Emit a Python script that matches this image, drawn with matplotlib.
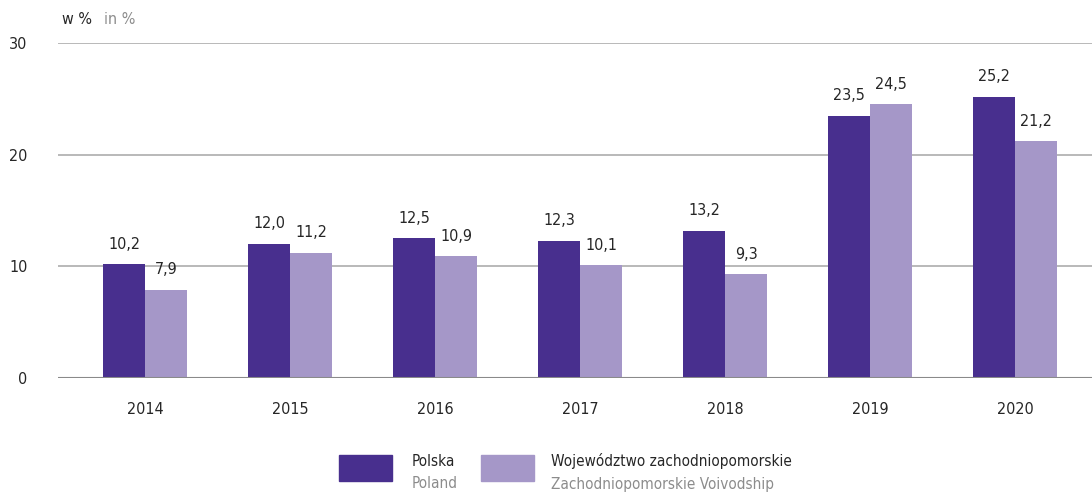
import matplotlib
matplotlib.use("Agg")
import matplotlib.pyplot as plt
from matplotlib import font_manager
from matplotlib.patches import Rectangle
import numpy as np

years = ["2014", "2015", "2016", "2017", "2018", "2019", "2020"]
polska = [10.2, 12.0, 12.5, 12.3, 13.2, 23.5, 25.2]
zachodniopomorskie = [7.9, 11.2, 10.9, 10.1, 9.3, 24.5, 21.2]
y_ticks = [0, 10, 20, 30]

dark = "#482f8e"
light = "#a597c8"
text_dark = "#262626"
text_gray = "#8c8c8c"

# prefer a narrow face when one is installed
names = {f.name for f in font_manager.fontManager.ttflist}
condensed = [f for f in font_manager.fontManager.ttflist
             if "Narrow" in f.name or "Condensed" in f.name
             or (isinstance(f.stretch, str) and "condensed" in f.stretch)
             or (isinstance(f.stretch, int) and f.stretch < 500)]
stretch = "normal"
if "Liberation Sans Narrow" in names:
    family = "Liberation Sans Narrow"
elif condensed:
    family = condensed[0].name
    stretch = condensed[0].stretch
else:
    family = "DejaVu Sans"
plt.rcParams["font.family"] = [family, "DejaVu Sans"]
plt.rcParams["font.stretch"] = stretch

fig = plt.figure(figsize=(10.92, 4.93), dpi=100)
ax = fig.add_axes([58 / 1092, 1 - 378 / 493, 1 - 58 / 1092, (378 - 43) / 493])

x = np.arange(len(years))
w = 0.29
b1 = ax.bar(x - w / 2, polska, w, color=dark, zorder=3)
b2 = ax.bar(x + w / 2, zachodniopomorskie, w, color=light, zorder=3)

for bars, vals in ((b1, polska), (b2, zachodniopomorskie)):
    for rect, v in zip(bars, vals):
        ax.annotate(f"{v:.1f}".replace(".", ","),
                    (rect.get_x() + rect.get_width() / 2, v),
                    xytext=(0, 9), textcoords="offset points",
                    ha="center", va="bottom", fontsize=11.5, color=text_dark)

ax.set_xlim(-0.6, 6.53)
ax.set_ylim(0, 30)
ax.set_yticks(y_ticks)
ax.set_yticklabels([str(t) for t in y_ticks], fontsize=11.5, color=text_dark)
ax.set_xticks(x)
ax.set_xticklabels(years, fontsize=11.5, color=text_dark)
ax.tick_params(axis="both", length=0)
ax.tick_params(axis="x", pad=17)
ax.tick_params(axis="y", pad=22)

for t in y_ticks[1:]:
    ax.axhline(t, color="#b3b3b3", lw=1.3, zorder=1)
ax.axhline(0, color="#8a8a8a", lw=1.5, zorder=4)
for s in ax.spines.values():
    s.set_visible(False)

# unit label above the plot
fig.text(62 / 1092, 1 - 20 / 493, "w %", fontsize=11.5, color=text_dark, va="center")
fig.text(104 / 1092, 1 - 20 / 493, "in %", fontsize=11.5, color=text_gray, va="center")

# legend
def legend_item(px, color, pl, en, tx):
    fig.patches.append(Rectangle((px / 1092, 1 - 481 / 493), 53 / 1092, 26 / 493,
                                 transform=fig.transFigure, color=color))
    fig.text(tx / 1092, 1 - 461 / 493, pl, fontsize=11, color=text_dark, va="center")
    fig.text(tx / 1092, 1 - 484 / 493, en, fontsize=11, color=text_gray, va="center")

legend_item(339, dark, "Polska", "Poland", 412)
legend_item(481, light, "Województwo zachodniopomorskie", "Zachodniopomorskie Voivodship", 551)

fig.savefig("out.png", dpi=100)
